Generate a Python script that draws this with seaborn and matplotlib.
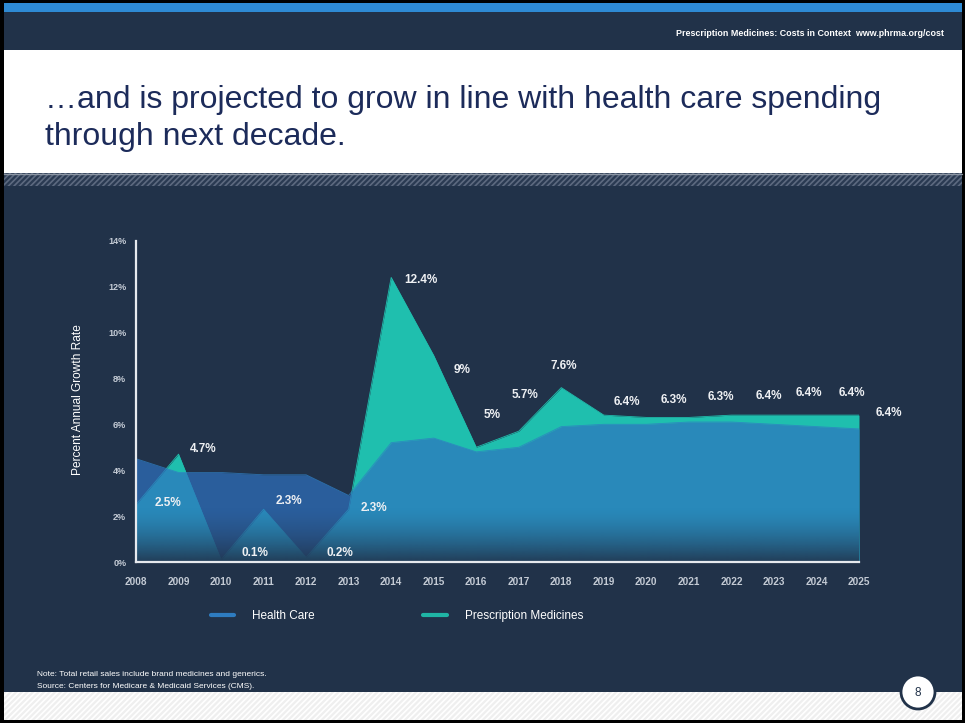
import numpy as np
import pandas as pd
import matplotlib
matplotlib.use("Agg")
import matplotlib.pyplot as plt
from matplotlib.patches import Rectangle, Circle
from matplotlib.lines import Line2D
import seaborn as sns

# ---------------- data ----------------
years = list(range(2008, 2026))
health_care = [4.5, 3.9, 3.9, 3.8, 3.8, 2.9, 5.2, 5.4, 4.8, 5.0, 5.9, 6.0, 6.0, 6.1, 6.1, 6.0, 5.9, 5.8]
prescription = [2.5, 4.7, 0.1, 2.3, 0.2, 2.3, 12.4, 9.0, 5.0, 5.7, 7.6, 6.4, 6.3, 6.3, 6.4, 6.4, 6.4, 6.4]
y_ticks = [0, 2, 4, 6, 8, 10, 12, 14]
series_names = ["Health Care", "Prescription Medicines"]
title_lines = ["\u2026and is projected to grow in line with health care spending",
               "through next decade."]
header_text = "Prescription Medicines: Costs in Context  www.phrma.org/cost"
note_lines = ["Note: Total retail sales include brand medicines and generics.",
              "Source: Centers for Medicare & Medicaid Services (CMS)."]
page_number = "8"

# label offsets in pixels (dx right, dy up) -- layout only
label_offsets = [(32, 2), (25, 5), (34, 7), (25, 8), (34, 4), (25, 1), (30, -3), (28, -15),
                 (16, 32), (6, 36), (2, 22), (23, 13), (28, 17), (32, 20), (37, 19),
                 (35, 22), (35, 22), (30, 2)]

df = pd.DataFrame({"year": years, "hc": health_care, "rx": prescription})

# ---------------- style ----------------
sns.set_theme(style="dark")
plt.rcParams["font.family"] = ["Liberation Sans", "DejaVu Sans"]
plt.rcParams["hatch.linewidth"] = 1.2

NAVY = "#213249"
TEAL = "#1fbfae"
BLUE = "#2e72c0"
TICK = "#c3cad4"

fig = plt.figure(figsize=(9.65, 7.23), dpi=100)
fig.patch.set_facecolor("black")

# background / decoration axes in pixel coordinates
bg = fig.add_axes([0, 0, 1, 1])
bg.set_xlim(0, 965)
bg.set_ylim(723, 0)
bg.axis("off")

bg.add_patch(Rectangle((4, 3), 958, 717, fc=NAVY, ec="none", zorder=0))
bg.add_patch(Rectangle((4, 3), 958, 9, fc="#2e8ad4", ec="none", zorder=1))
bg.add_patch(Rectangle((4, 50), 958, 123, fc="white", ec="none", zorder=1))
bg.add_patch(Rectangle((4, 173), 958, 13, fc="#2a3a52", ec="#5d6a80", lw=0,
                       hatch="//////", zorder=1))
bg.plot([4, 962], [173.5, 173.5], color="#8c96a4", lw=1, zorder=2)
bg.add_patch(Rectangle((4, 692), 958, 28, fc="#efefef", ec="#ffffff", lw=0,
                       hatch="//////", zorder=1))
bg.add_patch(Circle((918, 692), 17, fc="white", ec=NAVY, lw=2, zorder=3))
bg.text(918, 693, page_number, ha="center", va="center", fontsize=8.5, color=NAVY, zorder=4)

bg.text(944, 36, header_text, ha="right", va="baseline", fontsize=6.4,
        fontweight="bold", color="white")
bg.text(45, 108, title_lines[0], ha="left", va="baseline", fontsize=23, color="#1c2b5a")
bg.text(45, 145, title_lines[1], ha="left", va="baseline", fontsize=23, color="#1c2b5a")
bg.text(37, 676, note_lines[0], ha="left", va="baseline", fontsize=6.0, color="white")
bg.text(37, 688, note_lines[1], ha="left", va="baseline", fontsize=6.0, color="white")

# ---------------- chart ----------------
ax = fig.add_axes([136 / 965, 1 - 562 / 723, 723 / 965, (562 - 240.7) / 723])
ax.set_facecolor("none")

ax.fill_between(df["year"], 0, df["rx"], color=TEAL, lw=0, zorder=1)
ax.fill_between(df["year"], 0, df["hc"], color=BLUE, alpha=0.7, lw=0, zorder=2)
sns.lineplot(data=df, x="year", y="rx", ax=ax, color=TEAL, lw=0.6, zorder=1.5)
sns.lineplot(data=df, x="year", y="hc", ax=ax, color="#2f7ec2", lw=0.6, alpha=0.8, zorder=2.5)

# fade of the fills into the background near the baseline
navy_rgb = matplotlib.colors.to_rgb(NAVY)
n = 100
grad = np.zeros((n, 1, 4))
grad[:, 0, :3] = navy_rgb
grad[:, 0, 3] = np.linspace(0.92, 0.0, n) ** 1.6
ax.imshow(grad, extent=[years[0], years[-1], 0, 2.4], origin="lower",
          aspect="auto", zorder=3, interpolation="bilinear")

for yr, val, (dx, dy) in zip(years, prescription, label_offsets):
    ax.annotate(f"{val:g}%", (yr, val), xytext=(dx, dy), textcoords="offset pixels",
                ha="center", va="center", fontsize=8.5, fontweight="bold",
                color="#eef0f3", zorder=6)

ax.set_xlim(years[0], years[-1])
ax.set_ylim(0, 14)
ax.set_xticks(years)
ax.set_xticklabels([str(y) for y in years])
ax.set_yticks(y_ticks)
ax.set_yticklabels([f"{t}%" for t in y_ticks])
ax.tick_params(axis="x", length=0, pad=11, labelsize=7.2, labelcolor=TICK)
ax.tick_params(axis="y", length=0, pad=7, labelsize=6.5, labelcolor=TICK)
for lab in ax.get_xticklabels() + ax.get_yticklabels():
    lab.set_fontweight("bold")
ax.grid(False)
for side in ["top", "right"]:
    ax.spines[side].set_visible(False)
for side in ["left", "bottom"]:
    ax.spines[side].set_visible(True)
    ax.spines[side].set_color("#e6e9ee")
    ax.spines[side].set_linewidth(1.6)
    ax.spines[side].set_zorder(5)
ax.set_xlabel("")
ax.set_ylabel("Percent Annual Growth Rate", fontsize=8.6, color="white")
ax.yaxis.set_label_coords(-0.072, 0.507)

handles = [Line2D([0], [0], color="#2e7cc0", lw=3),
           Line2D([0], [0], color="#1fb5a5", lw=3)]
leg = fig.legend(handles, series_names, loc="center",
                 bbox_to_anchor=(397 / 965, 1 - 616 / 723), ncol=2, frameon=False,
                 fontsize=8.5, handlelength=2.0, handletextpad=1.5, columnspacing=9.2)
for t in leg.get_texts():
    t.set_color("white")

fig.savefig("out.png", dpi=100, facecolor=fig.get_facecolor())
